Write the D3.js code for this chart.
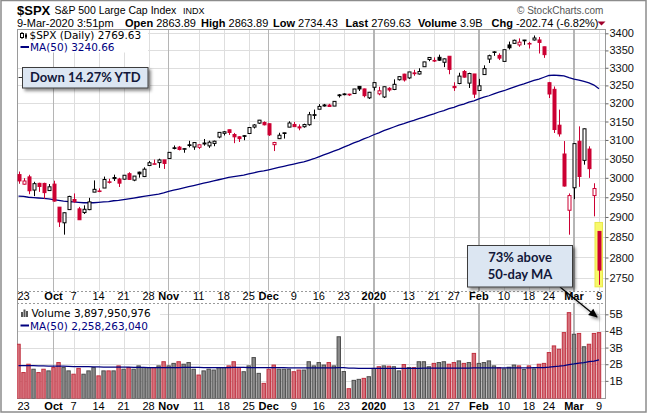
<!DOCTYPE html>
<html>
<head>
<meta charset="utf-8">
<script src="https://cdn.jsdelivr.net/npm/d3@7"></script>
<style>
  body { margin: 0; background: #fff; }
  svg { display: block; }
</style>
</head>
<body>
<svg id="chart" width="650" height="415"></svg>
<script>
// trading days shown (Sep 20 2019 .. Mar 9 2020)
const dates = [
  "2019-09-20","2019-09-23","2019-09-24","2019-09-25","2019-09-26","2019-09-27","2019-09-30",
  "2019-10-01","2019-10-02","2019-10-03","2019-10-04","2019-10-07","2019-10-08","2019-10-09","2019-10-10","2019-10-11",
  "2019-10-14","2019-10-15","2019-10-16","2019-10-17","2019-10-18","2019-10-21","2019-10-22","2019-10-23","2019-10-24",
  "2019-10-25","2019-10-28","2019-10-29","2019-10-30","2019-10-31",
  "2019-11-01","2019-11-04","2019-11-05","2019-11-06","2019-11-07","2019-11-08","2019-11-11","2019-11-12","2019-11-13",
  "2019-11-14","2019-11-15","2019-11-18","2019-11-19","2019-11-20","2019-11-21","2019-11-22","2019-11-25","2019-11-26",
  "2019-11-27","2019-11-29",
  "2019-12-02","2019-12-03","2019-12-04","2019-12-05","2019-12-06","2019-12-09","2019-12-10","2019-12-11","2019-12-12",
  "2019-12-13","2019-12-16","2019-12-17","2019-12-18","2019-12-19","2019-12-20","2019-12-23","2019-12-24","2019-12-26",
  "2019-12-27","2019-12-30","2019-12-31",
  "2020-01-02","2020-01-03","2020-01-06","2020-01-07","2020-01-08","2020-01-09","2020-01-10","2020-01-13","2020-01-14",
  "2020-01-15","2020-01-16","2020-01-17","2020-01-21","2020-01-22","2020-01-23","2020-01-24","2020-01-27","2020-01-28",
  "2020-01-29","2020-01-30","2020-01-31",
  "2020-02-03","2020-02-04","2020-02-05","2020-02-06","2020-02-07","2020-02-10","2020-02-11","2020-02-12","2020-02-13",
  "2020-02-14","2020-02-18","2020-02-19","2020-02-20","2020-02-21","2020-02-24","2020-02-25","2020-02-26","2020-02-27",
  "2020-02-28",
  "2020-03-02","2020-03-03","2020-03-04","2020-03-05","2020-03-06","2020-03-09"
];

const open = [
  3008.42,2983.50,3002.43,2968.35,2985.73,2985.47,2967.07,
  2983.69,2924.78,2885.38,2918.56,2944.23,2920.40,2911.10,2918.55,2963.07,2965.81,2973.61,2989.68,3000.77,2996.84,
  2996.48,3010.73,2994.01,3014.78,3003.32,3032.12,3035.39,3039.74,3046.90,
  3050.72,3078.96,3080.80,3075.10,3087.02,3081.25,3080.33,3089.28,3084.18,3090.75,3107.92,3117.91,3127.45,3114.66,
  3108.49,3111.41,3117.44,3134.85,3145.49,3147.18,
  3143.85,3087.41,3103.50,3119.21,3134.62,3141.86,3135.36,3135.75,3141.23,3166.65,3183.63,3195.40,3195.21,3192.32,
  3223.33,3226.05,3225.45,3227.20,3247.23,3240.09,3215.18,
  3244.67,3226.36,3217.55,3241.86,3238.59,3266.03,3281.81,3271.13,3285.35,3282.27,3302.97,3323.66,3321.03,3330.02,
  3315.77,3333.10,3247.16,3255.35,3289.46,3256.45,3282.33,
  3235.66,3280.61,3324.91,3344.92,3335.54,3318.28,3365.87,3370.50,3365.90,3378.08,3369.04,3380.39,3380.45,3360.50,
  3257.61,3238.94,3139.90,3062.54,2916.90,
  2974.28,3096.46,3045.75,3075.70,2954.20,2863.89
];
const high = [
  3016.37,2999.15,3007.98,2989.82,2987.28,2987.31,2983.85,
  2992.53,2924.78,2911.13,2953.74,2959.75,2925.47,2929.32,2948.46,2993.28,2972.84,3003.28,2997.54,3008.29,3000.00,
  3007.33,3014.57,3004.78,3016.07,3027.39,3044.08,3047.87,3050.10,3046.90,
  3066.95,3085.20,3083.95,3078.34,3097.77,3093.09,3088.33,3102.61,3098.06,3098.20,3120.46,3124.17,3127.64,3118.97,
  3110.11,3112.87,3133.83,3142.69,3154.26,3150.30,
  3144.31,3094.97,3119.38,3119.45,3150.60,3148.87,3142.12,3143.98,3176.28,3182.68,3197.71,3198.22,3198.48,3205.48,
  3225.65,3227.78,3226.43,3240.08,3247.93,3240.92,3231.72,
  3258.14,3246.15,3246.84,3244.91,3267.07,3275.58,3282.99,3288.13,3294.25,3298.66,3317.11,3329.88,3329.79,3337.77,
  3326.88,3333.18,3258.85,3285.78,3293.47,3285.91,3282.33,
  3268.44,3306.92,3337.58,3347.96,3341.42,3352.26,3375.63,3381.47,3385.09,3380.69,3375.01,3393.52,3389.15,3360.76,
  3259.81,3246.99,3182.51,3097.07,2959.72,
  3090.96,3136.72,3130.97,3083.04,2985.93,2863.89
];
const low = [
  2984.68,2982.23,2957.73,2952.86,2963.71,2945.53,2967.07,
  2938.70,2874.93,2855.96,2918.56,2935.68,2892.66,2907.41,2917.12,2963.07,2962.94,2973.61,2985.20,2991.79,2976.31,
  2995.35,2995.04,2991.21,3000.42,3001.94,3032.12,3034.81,3025.96,3023.19,
  3050.72,3074.87,3072.15,3065.89,3080.23,3073.58,3075.82,3084.73,3078.80,3083.26,3104.60,3112.06,3113.47,3091.41,
  3094.55,3099.26,3117.44,3131.00,3143.41,3139.34,
  3110.78,3070.33,3102.53,3103.76,3134.62,3135.46,3126.09,3133.21,3138.47,3156.51,3183.63,3191.03,3191.14,3192.32,
  3216.03,3222.30,3220.51,3227.20,3234.37,3216.57,3212.03,
  3235.53,3222.34,3214.64,3232.43,3236.67,3263.67,3260.86,3268.43,3277.19,3280.69,3302.82,3318.86,3316.61,3320.04,
  3301.87,3281.53,3234.50,3253.22,3271.89,3242.80,3214.68,
  3235.66,3280.61,3313.75,3334.39,3322.12,3317.77,3352.72,3369.72,3360.52,3366.15,3355.61,3378.83,3341.02,3328.45,
  3214.65,3118.77,3108.99,2977.39,2855.84,
  2945.19,2976.63,3034.38,2999.83,2901.54,2734.43
];
const close = [
  2992.07,2991.78,2966.60,2984.87,2977.62,2961.79,2976.74,
  2940.25,2887.61,2910.63,2952.01,2938.79,2893.06,2919.40,2938.13,2970.27,2966.15,2995.68,2989.69,2997.95,2986.20,
  3006.72,2995.99,3004.52,3010.29,3022.55,3039.42,3036.89,3046.77,3037.56,
  3066.91,3078.27,3074.62,3076.78,3085.18,3093.08,3087.01,3091.84,3094.04,3096.63,3120.46,3122.03,3120.18,3108.46,
  3103.54,3110.29,3133.64,3140.52,3153.63,3140.98,
  3113.87,3093.20,3112.76,3117.43,3145.91,3135.96,3132.52,3141.63,3168.57,3168.80,3191.45,3192.52,3191.14,3205.37,
  3221.22,3224.01,3223.38,3239.91,3240.02,3221.29,3230.78,
  3257.85,3234.85,3246.28,3237.18,3253.05,3274.70,3265.35,3288.13,3283.15,3289.29,3316.81,3329.62,3320.79,3321.75,
  3325.54,3295.47,3243.63,3276.24,3273.40,3283.66,3225.52,
  3248.92,3297.59,3334.69,3345.78,3327.71,3352.09,3357.75,3379.45,3373.94,3380.16,3370.29,3386.15,3373.23,3337.75,
  3225.89,3128.21,3116.39,2978.76,2954.22,
  3090.23,3003.37,3130.12,3023.94,2972.37,2769.63
];
const prevClose = 3006.79; // close of the day before the first bar

// 50-day moving average of price
const priceMA = [
  2953,2952,2950,2949,2948,2947,2946,
  2944,2942,2940,2939,2938,2937,2936,2936,2936,2937,2938,2939,2941,2942,2944,2946,2948,2950,2952,2954,2956,2958,2961,
  2965,2968,2971,2974,2977,2980,2983,2986,2989,2992,2995,2998,3001,3003,3005,3007,3010,3013,3016,3018,
  3021,3024,3027,3030,3033,3036,3039,3042,3046,3050,3055,3060,3065,3070,3075,3081,3086,3092,3097,3103,3108,
  3114,3119,3125,3130,3135,3140,3144,3149,3153,3158,3162,3167,3171,3176,3180,3185,3189,3194,3198,3203,3207,
  3212,3217,3221,3226,3231,3235,3240,3245,3250,3254,3259,3264,3268,3273,3278,3279,3278,3277,3272,
  3268,3265,3261,3257,3251,3240.66
];

// volume in billions of shares
const volume = [
  3.2,1.5,2.0,1.7,1.5,1.7,1.6,
  1.8,2.1,1.8,1.6,1.4,1.75,1.4,1.6,1.8,1.3,1.6,1.6,1.6,1.9,1.7,1.8,1.7,1.9,1.8,1.8,1.8,1.9,2.15,
  1.9,2.05,2.15,2.0,2.1,1.7,1.35,1.6,1.7,1.65,1.8,1.8,1.9,2.15,1.8,1.55,1.9,2.4,1.45,0.85,
  1.7,1.95,1.7,1.7,1.7,1.55,1.65,1.65,2.15,1.9,2.1,1.95,2.1,1.9,3.65,1.56,0.53,1.03,1.09,1.15,1.25,
  1.75,1.85,1.9,1.88,1.85,1.6,1.98,1.8,1.8,2.15,2.15,1.85,2.05,2.1,2.15,2.0,2.1,2.2,2.05,2.1,2.65,
  2.05,2.1,2.2,1.9,1.8,1.72,1.82,1.95,1.9,1.68,1.9,1.72,2.0,2.05,2.7,3.1,2.9,3.9,5.1,
  3.8,3.85,3.05,3.2,3.85,3.9
];
const volumeMA = [
  1.92,1.92,1.91,1.91,1.90,1.90,1.89,
  1.89,1.88,1.88,1.87,1.86,1.86,1.85,1.85,1.84,1.84,1.83,1.83,1.83,1.82,1.82,1.82,1.81,1.81,1.81,1.80,1.80,1.80,1.80,
  1.80,1.80,1.80,1.81,1.81,1.81,1.81,1.80,1.80,1.80,1.80,1.80,1.80,1.81,1.81,1.81,1.80,1.80,1.80,1.79,
  1.79,1.79,1.79,1.79,1.78,1.78,1.78,1.78,1.78,1.78,1.78,1.78,1.78,1.78,1.80,1.79,1.77,1.76,1.75,1.75,1.75,
  1.75,1.75,1.75,1.75,1.75,1.75,1.75,1.75,1.75,1.75,1.76,1.76,1.76,1.76,1.76,1.76,1.76,1.76,1.77,1.77,1.78,
  1.78,1.78,1.78,1.78,1.78,1.78,1.78,1.78,1.78,1.78,1.78,1.79,1.79,1.80,1.82,1.85,1.88,1.92,1.98,
  2.02,2.07,2.10,2.15,2.19,2.258
];

const priceTicks = [2750,2800,2850,2900,2950,3000,3050,3100,3150,3200,3250,3300,3350,3400];
const volumeTicks = [1,2,3,4,5];
const monthTickDates = ["2019-10-01","2019-11-01","2019-12-02","2020-01-02","2020-02-03","2020-03-02"];
const monthTickLabels = ["Oct","Nov","Dec","2020","Feb","Mar"];
const dayTickDates = ["2019-09-23","2019-10-07","2019-10-14","2019-10-21","2019-10-28","2019-11-11","2019-11-18",
  "2019-11-25","2019-12-09","2019-12-16","2019-12-23","2020-01-13","2020-01-21","2020-01-27","2020-02-10",
  "2020-02-18","2020-02-24","2020-03-09"];
const dayTickLabels = ["23","7","14","21","28","11","18","25","9","16","23","13","21","27","10","18","24","9"];
const highlightDate = "2020-03-09";

// ---------------------------------------------------------------
const sans = "'Liberation Sans', Arial, sans-serif";
const legendFont = "'DejaVu Sans', Verdana, sans-serif";
const noteFont = "Lato, 'Open Sans', sans-serif";
const RED = "#cc0033", BLACK = "#000", NAVY = "#00007f";

const svg = d3.select("#chart");
const P = {l: 17, r: 605.5, t: 29.5, b: 291};
const V = {l: 17, r: 605.5, t: 303, b: 398.5};

const x = d3.scaleBand().domain(dates).range([16, 601.5]);
const cx = d => x(d) + x.bandwidth() / 2;
const yP = d3.scaleLog().domain([2750, 3400]).range([278.3, 33.3]);
const yV = d3.scaleLinear().domain([0, 5]).range([397.5, 314.3]);

const bars = dates.map((d, i) => {
  const prev = i === 0 ? prevClose : close[i - 1];
  return {date: d, o: open[i], h: high[i], l: low[i], c: close[i], v: volume[i],
          up: close[i] >= prev, hollow: close[i] >= open[i]};
});

const defs = svg.append("defs");
defs.append("clipPath").attr("id", "clipP").append("rect")
  .attr("x", P.l).attr("y", P.t).attr("width", P.r - P.l).attr("height", P.b - P.t);
defs.append("clipPath").attr("id", "clipV").append("rect")
  .attr("x", V.l).attr("y", V.t).attr("width", V.r - V.l).attr("height", V.b - V.t);
defs.append("filter").attr("id", "shadow").attr("x", "-20%").attr("y", "-20%")
  .attr("width", "150%").attr("height", "160%")
  .append("feDropShadow").attr("dx", 2.5).attr("dy", 2.5).attr("stdDeviation", 1.5)
  .attr("flood-color", "#000").attr("flood-opacity", 0.45);
defs.append("marker").attr("id", "arrowhead").attr("viewBox", "0 0 10 10")
  .attr("refX", 9).attr("refY", 5).attr("markerWidth", 11).attr("markerHeight", 9)
  .attr("markerUnits", "userSpaceOnUse").attr("orient", "auto")
  .append("path").attr("d", "M0,0.5 L10,5 L0,9.5 Z").attr("fill", "#000");

// outer frame
svg.append("rect").attr("x", 1).attr("y", 0.5).attr("width", 645).attr("height", 411.5)
  .attr("fill", "#fff").attr("stroke", "#8c8c8c").attr("stroke-width", 1.5);

// ---------------- header ----------------
const head = svg.append("g").attr("font-family", sans).attr("fill", "#000");
head.append("text").attr("x", 17).attr("y", 15).attr("font-size", 13).attr("font-weight", "bold").text("$SPX");
head.append("text").attr("x", 54.5).attr("y", 14).attr("font-size", 10.5).text("S&P 500 Large Cap Index");
head.append("text").attr("x", 183).attr("y", 14).attr("font-size", 9).text("INDX");
head.append("text").attr("x", 517).attr("y", 13.5).attr("font-size", 10).attr("fill", "#555")
  .text("\u00a9 StockCharts.com");

// label / value pairs on the second header line
const line2 = [
  ["", "9-Mar-2020 3:51pm", 17], ["Open", "2863.89", 125], ["High", "2863.89", 201],
  ["Low", "2734.43", 273], ["Last", "2769.63", 345.5], ["Volume", "3.9B", 418],
  ["Chg", "-202.74 (-6.82%)", 491.5]
];
const l2 = head.selectAll("text.l2").data(line2).join("text").attr("class", "l2")
  .attr("x", d => d[2]).attr("y", 26.5).attr("font-size", 11);
l2.append("tspan").attr("font-weight", "bold").text(d => d[0]);
l2.append("tspan").text(d => (d[0] ? "\u00a0" : "") + d[1]);
head.append("path").attr("d", "M597.5,21.5 L605.5,21.5 L601.5,25.5 Z").attr("fill", "#a0002a");

// ---------------- panels and grids ----------------
function panelGrid(p, yScale, ticks) {
  const g = svg.append("g").attr("shape-rendering", "crispEdges");
  g.selectAll("line.h").data(ticks).join("line").attr("class", "h")
    .attr("x1", p.l).attr("x2", p.r).attr("y1", d => Math.round(yScale(d)) + 0.5)
    .attr("y2", d => Math.round(yScale(d)) + 0.5).attr("stroke", "#dedede");
  g.selectAll("line.w").data(dayTickDates.slice(1)).join("line").attr("class", "w")
    .attr("x1", d => Math.round(cx(d)) + 0.5).attr("x2", d => Math.round(cx(d)) + 0.5)
    .attr("y1", p.t).attr("y2", p.b).attr("stroke", "#dedede");
  g.selectAll("line.m").data(monthTickDates).join("line").attr("class", "m")
    .attr("x1", d => cx(d)).attr("x2", d => cx(d))
    .attr("y1", p.t).attr("y2", p.b).attr("stroke", "#b5b5b5").attr("stroke-width", 1.5);
  return g;
}
panelGrid(P, yP, priceTicks);
panelGrid(V, yV, volumeTicks);

// panel borders: solid outside, dotted along the date band
const border = svg.append("g").attr("stroke", "#9a9a9a").attr("shape-rendering", "crispEdges");
border.append("line").attr("x1", P.l).attr("x2", P.r).attr("y1", P.t).attr("y2", P.t);
border.append("line").attr("x1", P.l).attr("x2", P.l).attr("y1", P.t).attr("y2", V.b);
border.append("line").attr("x1", P.r).attr("x2", P.r).attr("y1", P.t).attr("y2", V.b);
border.append("line").attr("x1", V.l).attr("x2", V.r).attr("y1", V.b).attr("y2", V.b);
border.append("line").attr("x1", P.l).attr("x2", P.r).attr("y1", P.b).attr("y2", P.b).attr("stroke-dasharray", "2,2");
border.append("line").attr("x1", V.l).attr("x2", V.r).attr("y1", V.t).attr("y2", V.t).attr("stroke-dasharray", "2,2");

// ---------------- y axes ----------------
const yAxisP = svg.append("g").attr("transform", `translate(${P.r},0)`)
  .call(d3.axisRight(yP).tickValues(priceTicks).tickSize(3).tickPadding(1).tickFormat(d3.format("d")));
const yAxisV = svg.append("g").attr("transform", `translate(${V.r},0)`)
  .call(d3.axisRight(yV).tickValues(volumeTicks).tickSize(3).tickPadding(1).tickFormat(d => d + "B"));
[yAxisP, yAxisV].forEach(a => {
  a.select(".domain").remove();
  a.selectAll(".tick line").attr("stroke", "#666");
  a.selectAll("text").attr("font-family", sans).attr("font-size", 11).attr("fill", "#111");
});

// ---------------- date labels (between panels and at bottom) ----------------
function dateLabels(baseline) {
  const g = svg.append("g").attr("font-family", sans).attr("font-size", 11).attr("fill", "#000")
    .attr("text-anchor", "middle");
  g.selectAll("text.day").data(dayTickDates).join("text").attr("class", "day")
    .attr("x", d => cx(d)).attr("y", baseline).text((d, i) => dayTickLabels[i])
    .each(function() {
      const w = this.getComputedTextLength();
      const xx = +this.getAttribute("x");
      if (xx - w / 2 < P.l) this.setAttribute("x", P.l + w / 2);
    });
  g.selectAll("text.mon").data(monthTickDates).join("text").attr("class", "mon")
    .attr("x", d => cx(d)).attr("y", baseline).attr("font-weight", "bold")
    .text((d, i) => monthTickLabels[i]);
}
dateLabels(300);
dateLabels(409.5);

// ---------------- legends ----------------
const legP = svg.append("g").attr("font-family", legendFont).attr("font-size", 10.5);
legP.append("rect").attr("x", 18).attr("y", 30.5).attr("width", 130).attr("height", 22).attr("fill", "#fff");
legP.append("text").attr("x", 29.5).attr("y", 39).attr("fill", "#000").text("$SPX (Daily) 2769.63");
legP.append("text").attr("x", 30).attr("y", 51).attr("fill", NAVY).text("MA(50) 3240.66");
legP.append("line").attr("x1", 20.5).attr("x2", 29).attr("y1", 47).attr("y2", 47)
  .attr("stroke", NAVY).attr("stroke-width", 2);
// tiny candle icon
legP.append("line").attr("x1", 22).attr("x2", 22).attr("y1", 32).attr("y2", 39).attr("stroke", "#000");
legP.append("rect").attr("x", 20.5).attr("y", 33.5).attr("width", 3).attr("height", 4).attr("fill", "#fff").attr("stroke", "#000");
legP.append("line").attr("x1", 26).attr("x2", 26).attr("y1", 33).attr("y2", 39).attr("stroke", "#000");
legP.append("rect").attr("x", 25).attr("y", 34.5).attr("width", 2).attr("height", 3).attr("fill", "#000");

const legV = svg.append("g").attr("font-family", legendFont).attr("font-size", 10.5);
legV.append("rect").attr("x", 18).attr("y", 304).attr("width", 142).attr("height", 26).attr("fill", "#fff");
legV.append("text").attr("x", 31.5).attr("y", 317).attr("fill", "#000").text("Volume 3,897,950,976");
legV.append("text").attr("x", 30).attr("y", 329.5).attr("fill", NAVY).text("MA(50) 2,258,263,040");
legV.append("line").attr("x1", 20.5).attr("x2", 29).attr("y1", 325.5).attr("y2", 325.5)
  .attr("stroke", NAVY).attr("stroke-width", 2);
[[21, 312], [23.5, 309.5], [26, 311]].forEach(b => legV.append("rect")
  .attr("x", b[0]).attr("y", b[1]).attr("width", 2).attr("height", 317 - b[1]).attr("fill", "#555"));

// ---------------- price panel content ----------------
const gP = svg.append("g").attr("clip-path", "url(#clipP)");

const hb = bars.find(b => b.date === highlightDate);
gP.append("rect").attr("x", cx(hb.date) - 4).attr("width", 7.5)
  .attr("y", yP(hb.h) - 9).attr("height", yP(hb.l) - yP(hb.h) + 11)
  .attr("fill", "#f8f86a").attr("stroke", "#e8e84a");

gP.append("path").datum(dates)
  .attr("d", d3.line().x(d => cx(d)).y((d, i) => yP(priceMA[i])))
  .attr("fill", "none").attr("stroke", NAVY).attr("stroke-width", 1.3);

const candle = gP.selectAll("g.candle").data(bars).join("g").attr("class", "candle");
candle.append("line")
  .attr("x1", d => Math.round(cx(d.date)) + 0.5).attr("x2", d => Math.round(cx(d.date)) + 0.5)
  .attr("y1", d => yP(d.h)).attr("y2", d => yP(d.l))
  .attr("stroke", d => d.up ? BLACK : RED);
candle.append("rect")
  .attr("x", d => Math.round(cx(d.date)) - 1)
  .attr("width", 3)
  .attr("y", d => yP(Math.max(d.o, d.c)))
  .attr("height", d => Math.max(0.6, Math.abs(yP(d.o) - yP(d.c))))
  .attr("fill", d => d.hollow ? "#fff" : (d.up ? BLACK : RED))
  .attr("stroke", d => d.up ? BLACK : RED);

// ---------------- volume panel content ----------------
const gV = svg.append("g").attr("clip-path", "url(#clipV)");
gV.selectAll("rect.vol").data(bars).join("rect").attr("class", "vol")
  .attr("x", d => x(d.date) + 0.8).attr("width", x.bandwidth() - 1.6)
  .attr("y", d => yV(d.v)).attr("height", d => yV(0) - yV(d.v) + 1)
  .attr("fill", d => d.up ? "#8a8a8a" : "#d5707b")
  .attr("stroke", d => d.up ? "#4d4d4d" : "#c0303f");
gV.append("path").datum(dates)
  .attr("d", d3.line().x(d => cx(d)).y((d, i) => yV(volumeMA[i])))
  .attr("fill", "none").attr("stroke", NAVY).attr("stroke-width", 1.3);

// ---------------- annotations ----------------
const notes = svg.append("g").attr("font-family", noteFont).attr("font-weight", "bold")
  .attr("font-size", 13).attr("fill", "#12183a").attr("text-anchor", "middle");
notes.append("line").attr("x1", 18.5).attr("x2", 22.5).attr("y1", 77.5).attr("y2", 77.5).attr("stroke", "#333");
notes.append("rect").attr("x", 22.5).attr("y", 67.5).attr("width", 125.5).attr("height", 20.5)
  .attr("fill", "#dce6f2").attr("stroke", "#3c3c3c").attr("filter", "url(#shadow)");
notes.append("text").attr("x", 85.3).attr("y", 82.3).text("Down 14.27% YTD");

notes.append("line").attr("x1", 560).attr("y1", 287).attr("x2", 597).attr("y2", 317)
  .attr("stroke", "#000").attr("stroke-width", 1.2).attr("marker-end", "url(#arrowhead)")
  .attr("filter", "url(#shadow)");
notes.append("rect").attr("x", 467.5).attr("y", 245.5).attr("width", 105).attr("height", 41.5)
  .attr("fill", "#dce6f2").attr("stroke", "#3c3c3c").attr("filter", "url(#shadow)");
notes.append("text").attr("x", 520).attr("y", 261.5).text("73% above");
notes.append("text").attr("x", 520).attr("y", 279).text("50-day MA");
</script>
</body>
</html>
